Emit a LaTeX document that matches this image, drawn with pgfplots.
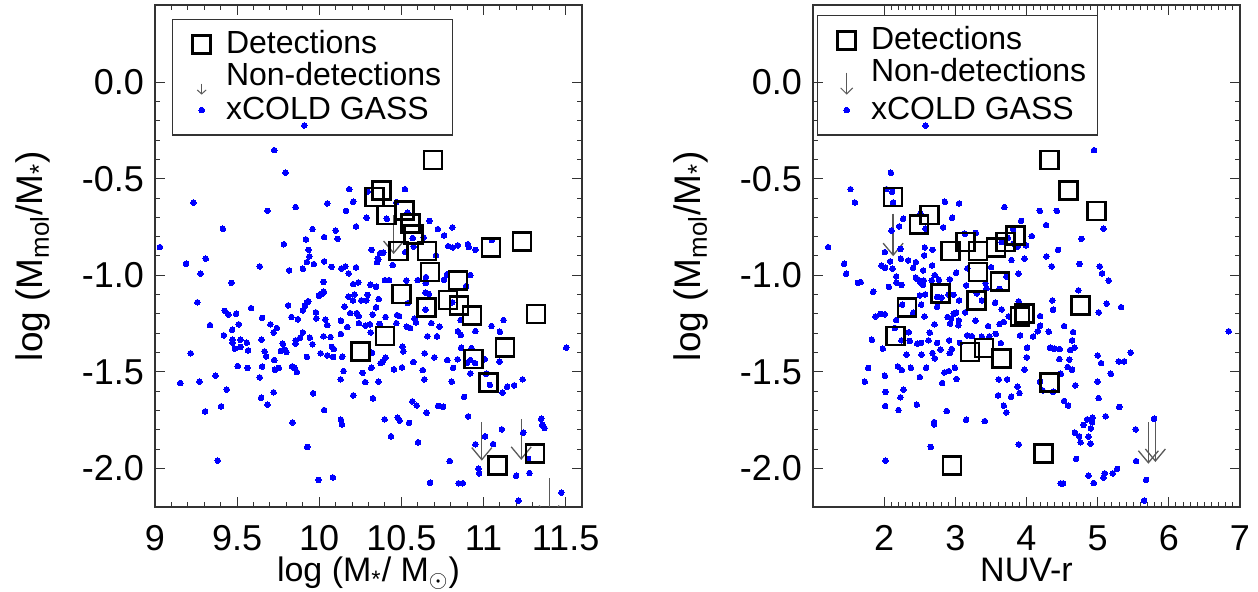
\documentclass[border=0pt]{standalone}
\usepackage{pgfplots}
\pgfplotsset{compat=1.18}
\usepackage{pgfplotstable}
\usepackage{fontspec}
\setmainfont{Liberation Sans}
\usetikzlibrary{arrows.meta}

\pgfplotstableread{
x y
9.909 -0.224
9.726 -0.352
9.795 -0.469
9.234 -0.623
10.183 -0.554
10.522 -0.554
9.685 -0.666
9.856 -0.647
10.049 -0.628
10.207 -0.619
10.295 -0.566
10.47 -0.621
10.163 -0.666
10.289 -0.702
10.411 -0.707
10.537 -0.676
10.671 -0.718
9.413 -0.759
9.959 -0.761
10.1 -0.768
10.224 -0.747
10.722 -0.761
10.811 -0.752
10.76 -0.794
9.919 -0.814
10.03 -0.802
10.112 -0.811
9.785 -0.839
10.569 -0.807
10.636 -0.804
9.03 -0.854
9.935 -0.868
10.319 -0.868
10.372 -0.885
10.39 -0.882
10.524 -0.88
10.575 -0.851
10.785 -0.849
10.813 -0.856
10.844 -0.845
10.905 -0.839
10.911 -0.854
10.951 -0.868
11.051 -0.818
9.309 -0.914
9.94 -0.902
10.356 -0.914
10.711 -0.897
9.189 -0.940
9.278 -0.992
9.465 -1.039
9.638 -0.954
9.817 -0.975
9.9 -0.966
9.925 -0.932
9.967 -0.942
10.03 -0.928
10.075 -0.956
10.134 -0.965
10.159 -0.954
10.179 -0.990
10.224 -0.959
10.352 -0.932
10.36 -0.918
10.447 -0.947
10.4 -1.025
10.425 -1.025
10.53 -1.027
10.6 -1.025
10.648 -1.04
10.65 -1.009
10.778 -0.995
10.92 -0.999
10.76 -1.023
9.258 -1.14
9.425 -1.184
9.447 -1.203
9.494 -1.199
9.335 -1.258
9.419 -1.311
9.47 -1.282
9.51 -1.254
9.585 -1.17
9.472 -1.334
9.472 -1.349
9.52 -1.334
9.486 -1.380
9.52 -1.371
9.559 -1.349
9.567 -1.389
9.217 -1.404
9.652 -1.221
9.703 -1.254
9.722 -1.296
9.742 -1.273
9.648 -1.334
9.667 -1.394
9.677 -1.420
9.726 -1.439
9.504 -1.470
9.563 -1.480
9.652 -1.473
9.754 -1.480
9.73 -1.489
9.154 -1.558
9.270 -1.551
9.368 -1.520
9.437 -1.592
9.305 -1.705
9.402 -1.679
9.382 -1.960
9.638 -1.529
9.646 -1.634
9.685 -1.670
9.722 -1.606
9.766 -1.392
9.778 -1.354
9.791 -1.385
9.801 -1.398
9.811 -1.156
9.831 -1.216
9.87 -1.228
9.9 -1.182
9.913 -1.158
9.925 -1.140
9.933 -1.134
9.9 -1.296
9.884 -1.323
9.856 -1.337
9.856 -1.354
9.835 -1.472
9.848 -1.480
9.864 -1.501
9.925 -1.423
9.943 -1.323
9.959 -1.357
9.98 -1.192
9.982 -1.223
9.998 -1.106
10.016 -1.096
10.028 -1.085
10.026 -1.034
10.008 -1.404
10.026 -1.316
10.037 -1.230
10.049 -1.258
10.049 -1.415
10.069 -1.320
10.077 -1.371
10.089 -1.382
10.085 -1.423
9.963 -1.611
10.03 -1.698
9.837 -1.762
9.927 -1.889
9.996 -2.060
10.083 -2.047
10.132 -1.235
10.132 -1.304
10.14 -1.422
10.148 -1.496
10.13 -1.539
10.154 -1.163
10.171 -1.268
10.177 -1.111
10.189 -1.196
10.205 -1.130
10.207 -1.046
10.215 -1.099
10.228 -1.196
10.238 -1.037
10.24 -1.211
10.242 -1.248
10.256 -1.130
10.281 -1.261
10.287 -1.130
10.295 -1.101
10.311 -1.049
10.309 -1.254
10.325 -1.203
10.346 -1.059
10.346 -1.166
10.362 -1.123
10.368 -1.252
10.313 -1.296
10.321 -1.401
10.317 -1.479
10.264 -1.505
10.28 -1.553
10.36 -1.551
10.327 -1.637
10.207 -1.622
10.132 -1.748
10.138 -1.773
10.374 -1.455
10.386 -1.448
10.404 -1.427
10.404 -1.216
10.455 -1.487
10.474 -1.206
10.47 -1.248
10.486 -1.211
10.506 -1.370
10.512 -1.394
10.504 -1.477
10.533 -1.266
10.553 -1.273
10.573 -1.449
10.579 -1.225
10.589 -1.244
10.54 -1.144
10.63 -1.491
10.64 -1.539
10.642 -1.404
10.646 -1.090
10.648 -1.178
10.659 -1.316
10.667 -1.096
10.683 -1.248
10.701 -1.425
10.717 -1.316
10.732 -1.266
10.81 -1.14
10.78 -1.439
10.815 -1.480
10.807 -1.551
10.842 -1.435
10.844 -1.290
10.862 -1.309
10.864 -1.375
10.86 -1.232
10.882 -1.630
10.894 -1.056
10.9 -1.453
10.92 -1.439
10.927 -1.377
10.951 -1.289
10.949 -1.455
10.92 -1.508
11.008 -1.435
11.016 -1.510
11.039 -1.568
11.049 -1.263
11.1 -1.292
11.122 -1.232
11.098 -1.447
11.116 -1.608
11.144 -1.577
11.187 -1.570
11.238 -1.539
11.504 -1.375
10.907 -1.731
11.01 -1.834
10.951 -1.875
11.059 -1.874
11.112 -1.798
11.242 -1.815
11.352 -1.743
11.358 -1.774
11.372 -1.791
11.272 -1.951
11.28 -2.024
11.199 -2.038
10.97 -2.001
10.974 -2.026
10.795 -1.962
10.848 -2.077
10.874 -2.077
10.675 -2.074
10.567 -1.653
10.593 -1.674
10.654 -1.712
10.724 -1.676
10.754 -1.681
10.478 -1.738
10.49 -1.753
10.547 -1.764
10.398 -1.746
10.437 -1.834
10.602 -1.865
11.213 -2.167
11.474 -2.126
}\leftdots

\pgfplotstableread{
x y
10.693 -0.402
10.378 -0.561
10.337 -0.595
10.409 -0.687
10.518 -0.664
10.555 -0.733
10.575 -0.788
10.655 -0.875
10.484 -0.875
10.675 -0.983
11.045 -0.856
11.234 -0.826
10.846 -1.028
10.502 -1.097
10.783 -1.128
10.85 -1.156
10.652 -1.166
10.929 -1.209
11.321 -1.201
10.4 -1.315
10.252 -1.394
11.13 -1.375
10.941 -1.434
11.03 -1.555
11.087 -1.984
11.313 -1.924
}\leftdet

\pgfplotstableread{
x y u v
10.453 -0.69 0 -0.20
10.99 -1.76 0 -0.20
11.23 -1.746 0 -0.21
11.40 -2.05 0 -0.21
}\leftarr

\pgfplotstableread{
x y
2.581 -0.224
4.949 -0.352
2.094 -0.469
1.527 -0.554
1.588 -0.623
2.033 -0.554
2.112 -0.568
2.126 -0.623
3.69 -0.647
2.852 -0.619
3.053 -0.628
4.186 -0.666
4.425 -0.666
3.924 -0.718
2.267 -0.707
2.211 -0.747
2.955 -0.702
2.829 -0.752
2.581 -0.759
2.51 -0.682
4.275 -0.740
5.081 -0.759
4.074 -0.797
4.772 -0.811
4.444 -0.868
4.28 -0.902
1.213 -0.854
2.103 -0.768
2.009 -0.880
2.571 -0.856
2.679 -0.868
3.287 -0.780
3.133 -0.785
3.812 -0.761
3.737 -0.806
3.971 -0.914
2.234 -0.914
2.337 -0.923
2.562 -0.897
3.873 -0.851
3.994 -0.845
3.788 -0.921
2.229 -0.863
3.649 -0.828
3.812 -0.836
2.445 -0.932
2.084 -0.928
1.963 -0.949
2.014 -0.961
2.117 -0.966
2.407 -0.961
2.548 -0.975
2.674 -0.949
1.669 -1.035
2.169 -1.006
2.173 -1.038
2.243 -1.05
2.066 -1.06
1.846 -1.085
2.445 -1.012
2.473 -1.021
2.506 -1.037
2.557 -1.027
2.548 -1.05
2.669 -1.027
2.711 -0.999
2.768 -1.023
2.922 -1.021
3.152 -1.052
3.17 -0.964
3.011 -0.987
3.503 -0.958
3.718 -1.006
3.887 -0.992
4.355 -0.954
4.745 -0.941
4.73 -1.078
3.423 -1.04
3.437 -1.068
3.62 -1.07
3.301 -1.094
3.372 -1.13
3.891 -1.135
3.559 -1.142
3.652 -1.177
2.501 -1.104
2.576 -1.099
2.52 -1.152
2.253 -1.152
2.407 -1.194
2.744 -1.112
2.805 -1.116
2.904 -1.099
2.974 -1.101
3.053 -1.13
2.744 -1.164
4.364 -1.13
4.373 -1.178
1.878 -1.213
1.948 -1.2
2.009 -1.202
2.169 -1.232
2.566 -1.213
2.641 -1.297
2.707 -1.254
2.89 -1.216
2.927 -1.25
2.941 -1.223
2.978 -1.199
3.011 -1.194
3.049 -1.234
3.044 -1.259
3.138 -1.192
3.283 -1.235
3.461 -1.263
3.62 -1.253
3.681 -1.242
3.751 -1.213
4.191 -1.211
4.191 -1.261
4.158 -1.29
4.313 -1.292
4.528 -1.263
1.827 -1.334
1.981 -1.38
2.15 -1.273
2.243 -1.337
2.346 -1.295
2.36 -1.34
2.463 -1.354
2.52 -1.35
2.623 -1.337
2.744 -1.35
2.791 -1.384
2.913 -1.337
2.95 -1.382
3.063 -1.35
3.166 -1.311
3.231 -1.315
3.372 -1.318
3.479 -1.316
3.568 -1.303
3.639 -1.351
3.91 -1.311
4.008 -1.375
4.093 -1.317
4.331 -1.375
4.388 -1.38
4.467 -1.382
4.612 -1.387
4.674 -1.375
4.654 -1.294
4.64 -1.337
2.314 -1.411
2.524 -1.411
2.679 -1.403
2.922 -1.403
2.711 -1.43
1.438 -0.94
1.466 -0.992
1.63 -1.039
5.029 -0.954
5.062 -0.990
5.155 -1.027
5.015 -1.192
5.127 -1.147
5.329 -1.165
6.841 -1.29
5.464 -1.401
5.296 -1.446
5.371 -1.446
5.0 -1.415
5.048 -1.455
5.184 -1.510
5.0 -1.551
5.013 -1.636
5.303 -1.682
5.112 -1.730
4.927 -1.737
4.922 -1.761
4.852 -1.746
4.904 -1.793
4.801 -1.775
4.68 -1.815
4.74 -1.834
4.759 -1.865
4.87 -1.836
4.898 -1.872
4.698 -1.951
4.87 -2.038
4.945 -2.076
5.081 -2.048
5.1 -2.026
5.212 -2.026
5.273 -2.003
4.481 -2.078
4.514 -2.078
5.535 -1.798
5.792 -1.743
5.539 -1.962
5.68 -2.060
5.652 -2.167
4.528 -1.651
4.584 -1.675
4.686 -1.570
4.58 -1.475
4.64 -1.489
4.481 -1.510
4.462 -1.434
4.601 -1.437
4.374 -1.603
4.228 -1.596
4.191 -1.551
3.971 -1.488
4.004 -1.425
3.873 -1.577
3.901 -1.610
3.784 -1.629
3.728 -1.539
3.61 -1.539
3.601 -1.622
3.681 -1.675
3.718 -1.710
3.891 -1.876
3.414 -1.755
3.152 -1.748
2.88 -1.703
3.016 -1.537
2.993 -1.479
2.908 -1.496
2.847 -1.503
2.815 -1.558
2.702 -1.760
2.702 -1.772
2.655 -1.889
2.459 -1.670
2.501 -1.527
2.375 -1.479
2.59 -1.479
2.192 -1.472
2.248 -1.491
2.009 -1.520
1.775 -1.480
1.728 -1.551
2.019 -1.604
2.014 -1.677
2.272 -1.593
2.229 -1.632
2.201 -1.698
2.019 -1.960
}\rightdots

\pgfplotstableread{
x y
4.327 -0.402
4.59 -0.561
4.983 -0.668
2.126 -0.595
2.638 -0.687
2.492 -0.737
3.147 -0.828
2.933 -0.875
3.32 -0.875
3.569 -0.857
3.709 -0.828
3.845 -0.793
3.32 -0.983
3.625 -1.032
2.792 -1.095
3.298 -1.13
2.323 -1.168
3.906 -1.213
3.976 -1.199
4.758 -1.156
2.16 -1.315
3.204 -1.397
3.404 -1.377
3.649 -1.432
4.323 -1.556
4.239 -1.923
2.951 -1.984
}\rightdet

\pgfplotstableread{
x y u v
2.126 -0.681 0 -0.22
5.713 -1.760 0 -0.216
5.811 -1.743 0 -0.224
}\rightarr

\pgfplotsset{
  panel/.style={
    scale only axis, width=213.5pt, height=251pt,
    ymin=-2.2, ymax=0.4,
    ytick={-2,-1.5,-1,-0.5,0},
    yticklabels={-2.0,-1.5,-1.0,-0.5,0.0},
    minor y tick num=4,
    tick align=inside, tick pos=both,
    xticklabel pos=lower, yticklabel pos=left,
    major tick length=5pt, minor tick length=2.5pt,
    every tick/.append style={black!80, line width=0.5pt},
    axis line style={black!80, line width=0.6pt},
    tick label style={font=\fontsize{18}{18}\selectfont},
    xticklabel style={inner sep=0pt, anchor=north, yshift=-9pt},
    yticklabel style={xshift=-2pt},
    xlabel style={font=\fontsize{17}{17}\selectfont, inner sep=0pt, at={(axis description cs:0.5,-0.1494)}, anchor=base},
    ylabel style={font=\fontsize{18.5}{18.5}\selectfont, at={(axis description cs:-0.2646,0.5)}, anchor=base},
    ylabel={log (M\textsubscript{mol}/M\textsubscript{*})},
    legend cell align=left,
    legend style={draw=black!80, fill=none, line width=0.6pt,
      font=\fontsize{16}{16}\selectfont,
      at={(axis description cs:0,1)}, anchor=north west,
      inner xsep=2.5pt, inner ysep=4pt, row sep=-1pt,
      nodes={inner ysep=1.5pt, inner xsep=3pt, text height=11.5pt, text depth=2.5pt}},
  },
  dots/.style={only marks, mark=*, mark size=1.4pt, color=blue, mark options={draw=blue, fill=blue, line width=0pt}},
  dets/.style={only marks, mark=square, mark size=4.5pt, line width=1.3pt, color=black},
  arrs/.style={color=black!65, line width=0.65pt, -{Straight Barb[length=6pt,width=10pt]}, quiver={u=\thisrow{u}, v=\thisrow{v}}},
  markimg/.style={legend image code/.code={\path (-0.1cm,0) (0.6cm,0); \draw plot coordinates {(0.3cm,0cm)};}},
}

\begin{document}
\begin{tikzpicture}
\useasboundingbox (-77.5pt,-42.5pt) rectangle (551.5pt,253.5pt);
\begin{axis}[panel, at={(0pt,0pt)}, anchor=south west,
  xmin=9, xmax=11.6,
  xtick={9,9.5,10,10.5,11,11.5},
  xticklabels={9,9.5,10,10.5,11,11.5},
  minor x tick num=4,
  xlabel={log (M\textsubscript{*}/ M$_\odot$)},
  legend style={xshift=8.5pt, yshift=-7pt}]
\addlegendimage{dets, markimg}
\addlegendentry{Detections}
\addlegendimage{legend image code/.code={\path (-0.1cm,0) (0.6cm,0); \draw[black!65, line width=0.5pt, -{Straight Barb[length=2pt,width=4.5pt]}] (0.3cm,-3.5pt) -- (0.3cm,-9pt);}}
\addlegendentry{Non-detections}
\addlegendimage{dots, markimg}
\addlegendentry{xCOLD GASS}
\addplot[dots, forget plot] table[x=x, y=y] {\leftdots};
\addplot[dets, forget plot] table[x=x, y=y] {\leftdet};
\addplot[arrs, forget plot] table[x=x, y=y] {\leftarr};
\end{axis}
\begin{axis}[panel, at={(329pt,0pt)}, anchor=south west,
  xmin=1, xmax=7,
  xtick={2,3,4,5,6,7},
  xticklabels={2,3,4,5,6,7},
  minor x tick num=9,
  xlabel={NUV-r},
  legend style={xshift=2pt, yshift=-5pt}]
\addlegendimage{dets, markimg}
\addlegendentry{Detections}
\addlegendimage{legend image code/.code={\path (-0.1cm,0) (0.6cm,0); \draw[black!65, line width=0.5pt, -{Straight Barb[length=3pt,width=6pt]}] (0.3cm,0pt) -- (0.3cm,-11pt);}}
\addlegendentry{Non-detections}
\addlegendimage{dots, markimg}
\addlegendentry{xCOLD GASS}
\addplot[dots, forget plot] table[x=x, y=y] {\rightdots};
\addplot[dets, forget plot] table[x=x, y=y] {\rightdet};
\addplot[arrs, forget plot] table[x=x, y=y] {\rightarr};
\end{axis}
\end{tikzpicture}
\end{document}
